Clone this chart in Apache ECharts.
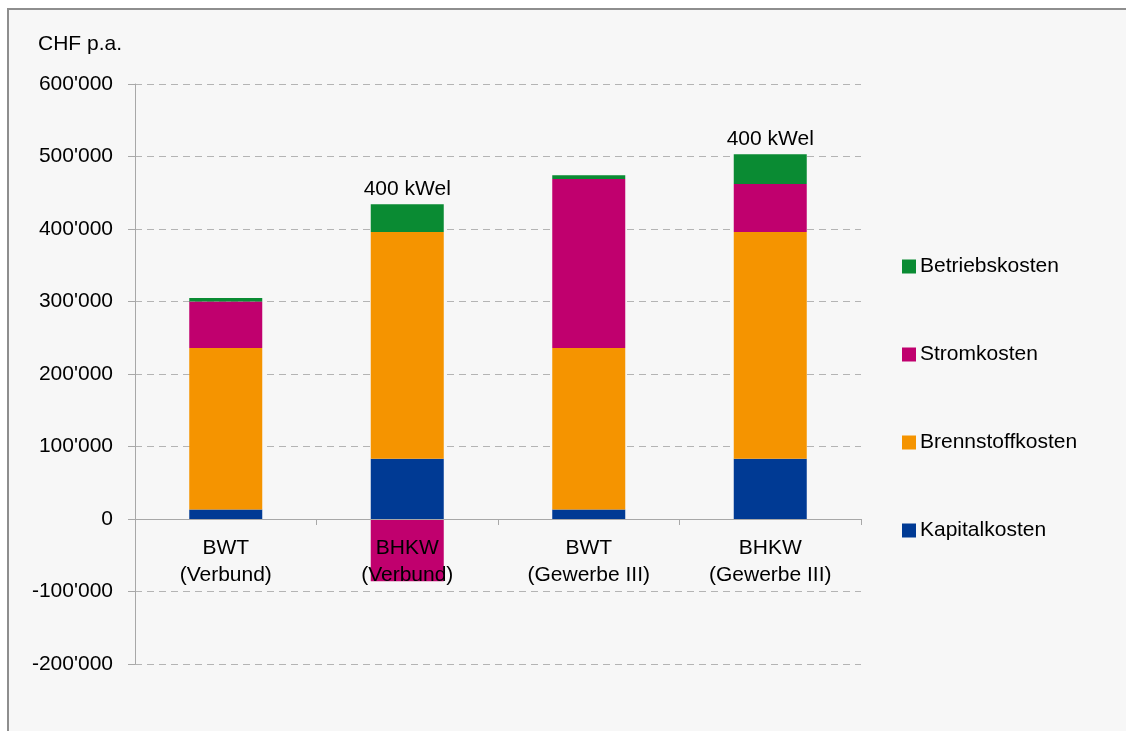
<!DOCTYPE html>
<html>
<head>
<meta charset="utf-8">
<script src="https://cdn.jsdelivr.net/npm/echarts@6/dist/echarts.min.js"></script>
<style>
body{margin:0;background:#fff;overflow:hidden;}
#frame{position:absolute;left:7px;top:8px;width:1140px;height:740px;border:2px solid #8e8e8e;background:#f7f7f7;}
#chart{position:absolute;left:0;top:0;width:1126px;height:731px;}
</style>
</head>
<body>
<div id="frame"></div>
<div id="chart"></div>
<script>
// Daten
var categories = ['BWT\n(Verbund)', 'BHKW\n(Verbund)', 'BWT\n(Gewerbe III)', 'BHKW\n(Gewerbe III)'];
var kapitalkosten = [13000, 83000, 13000, 83000];
var brennstoffkosten = [223000, 313000, 223000, 313000];
var stromkosten = [64000, -86000, 233000, 66000];
var betriebskosten = [5000, 38000, 5000, 41000];
var topLabels = ['', '400 kWel', '', '400 kWel'];
var legendOrder = ['Betriebskosten', 'Stromkosten', 'Brennstoffkosten', 'Kapitalkosten'];

var chart = echarts.init(document.getElementById('chart'));
var font = 'Liberation Sans, Arial, sans-serif';
var fs = 21;

function fmt(v){
	var s = Math.abs(v).toString().replace(/\B(?=(\d{3})+(?!\d))/g, "'");
	return (v < 0 ? '-' : '') + s;
}

var option = {
	animation: false,
	backgroundColor: 'transparent',
	textStyle: {fontFamily: font},
	title: {
		text: 'CHF p.a.',
		left: 33, top: 29,
		textStyle: {fontSize: fs, fontWeight: 'normal', color: '#000', fontFamily: font}
	},
	legend: {
		orient: 'vertical',
		left: 897, top: 251,
		itemWidth: 14, itemHeight: 14,
		itemGap: 67,
		icon: 'rect',
		data: legendOrder,
		textStyle: {fontSize: fs, color: '#000', fontFamily: font, padding: [0, 0, 0, -1]}
	},
	grid: {left: 135, right: 265, top: 84, bottom: 67, containLabel: false},
	xAxis: {
		type: 'category',
		data: categories,
		offset: -145,
		z: 5,
		axisLine: {onZero: false, lineStyle: {color: '#a8a8a8', width: 1}},
		axisTick: {show: true, length: 6, lineStyle: {color: '#a8a8a8'}},
		axisLabel: {fontSize: fs, color: '#000', lineHeight: 27, margin: 16, fontFamily: font, interval: 0},
		splitLine: {show: false}
	},
	yAxis: {
		type: 'value',
		min: -200000, max: 600000, interval: 100000,
		axisLine: {show: true, lineStyle: {color: '#a8a8a8', width: 1}},
		axisTick: {show: true, length: 7, lineStyle: {color: '#a8a8a8'}},
		axisLabel: {fontSize: fs, color: '#000', margin: 22, fontFamily: font, formatter: fmt},
		splitLine: {show: true, lineStyle: {color: '#b4b4b4', type: [7, 5], width: 1}}
	},
	series: [
		{name: 'Kapitalkosten', type: 'bar', stack: 'k', barWidth: 73, data: kapitalkosten, itemStyle: {color: '#003a94'}},
		{name: 'Brennstoffkosten', type: 'bar', stack: 'k', data: brennstoffkosten, itemStyle: {color: '#f59400'}},
		{name: 'Stromkosten', type: 'bar', stack: 'k', data: stromkosten, itemStyle: {color: '#c0006e'}},
		{name: 'Betriebskosten', type: 'bar', stack: 'k', data: betriebskosten, itemStyle: {color: '#0a8b33'},
			label: {
				show: true, position: 'top', distance: 5,
				fontSize: fs, color: '#000', fontFamily: font,
				formatter: function(p){ return topLabels[p.dataIndex]; }
			}
		}
	]
};
chart.setOption(option);
</script>
</body>
</html>
